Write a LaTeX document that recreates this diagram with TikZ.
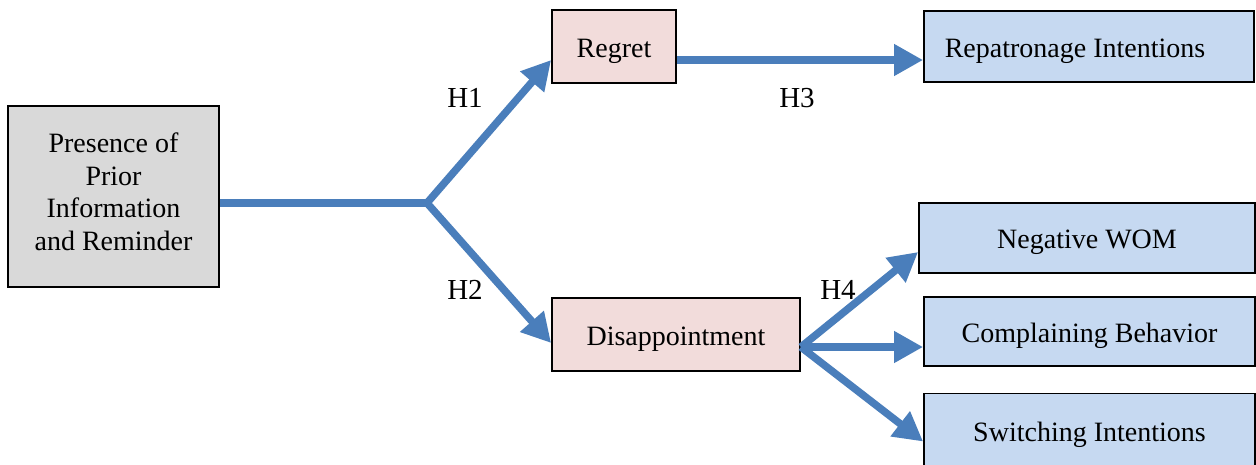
\documentclass[tikz,border=0pt]{standalone}
\usepackage{fontspec}
\setmainfont{Liberation Serif}
\usetikzlibrary{arrows.meta}
\definecolor{lineblue}{HTML}{4A7EBB}
\definecolor{pinkfill}{HTML}{F2DCDB}
\definecolor{bluefill}{HTML}{C6D9F1}
\definecolor{grayfill}{HTML}{D9D9D9}
\newcommand{\lowr}[1]{\raisebox{-4.5pt}[\height][\depth]{#1}}
\begin{document}
\begin{tikzpicture}[x=1pt,y=-1pt,
  box/.style={draw=black,line width=1.8pt,inner sep=0pt,font=\fontsize{28}{32.5}\selectfont},
  hlabel/.style={font=\fontsize{29}{34}\selectfont,inner sep=0pt},
  link/.style={draw=lineblue,line width=7.5pt},
  arr/.style={link,-{Triangle[length=29pt,width=30pt]}}]
\useasboundingbox (0,0) rectangle (1256,464);
\node[box,fill=grayfill,minimum width=211pt,minimum height=181pt] (pres) at (113.5,196.5) {\raisebox{1.5pt}[\height][\depth]{\begin{tabular}{@{}c@{}}Presence of\\Prior\\Information\\and Reminder\end{tabular}}};
\node[box,fill=pinkfill,minimum width=124pt,minimum height=73pt] (reg) at (614,46.5) {\lowr{Regret}};
\node[box,fill=pinkfill,minimum width=248pt,minimum height=73pt] (dis) at (676,334.5) {\lowr{Disappointment}};
\node[box,fill=bluefill,minimum width=330pt,minimum height=71pt] (rep) at (1089,46.5) {\hspace*{-28pt}\lowr{Repatronage Intentions}};
\node[box,fill=bluefill,minimum width=336pt,minimum height=70pt] (neg) at (1087,238) {\lowr{Negative WOM}};
\node[box,fill=bluefill,minimum width=331pt,minimum height=69pt] (com) at (1089.5,331.5) {\lowr{Complaining Behavior}};
\node[box,fill=bluefill,minimum width=331pt,minimum height=73pt] (swi) at (1089.5,430) {\lowr{Switching Intentions}};
\coordinate (J) at (427,203);
\draw[link,line join=miter] ([yshift=-6.5pt]pres.east) -- (J);
\draw[arr] (J) -- ([yshift=-13.5pt]reg.west);
\draw[arr] (J) -- ([yshift=-8.5pt]dis.west);
\draw[arr] ([yshift=-13.5pt]reg.east) -- ([yshift=-13.5pt]rep.west);
\draw[arr] ([yshift=-12.5pt]dis.east) -- ([yshift=-14pt]neg.west);
\draw[arr] ([yshift=-12.5pt]dis.east) -- ([yshift=-15.5pt]com.west);
\draw[arr] ([yshift=-12.5pt]dis.east) -- ([yshift=-11.5pt]swi.west);
\node[hlabel] (h1) at (465,98) {H1};
\node[hlabel] (h2) at (465,290) {H2};
\node[hlabel] (h3) at (797,98) {H3};
\node[hlabel] (h4) at (838,290) {H4};
\end{tikzpicture}
\end{document}
